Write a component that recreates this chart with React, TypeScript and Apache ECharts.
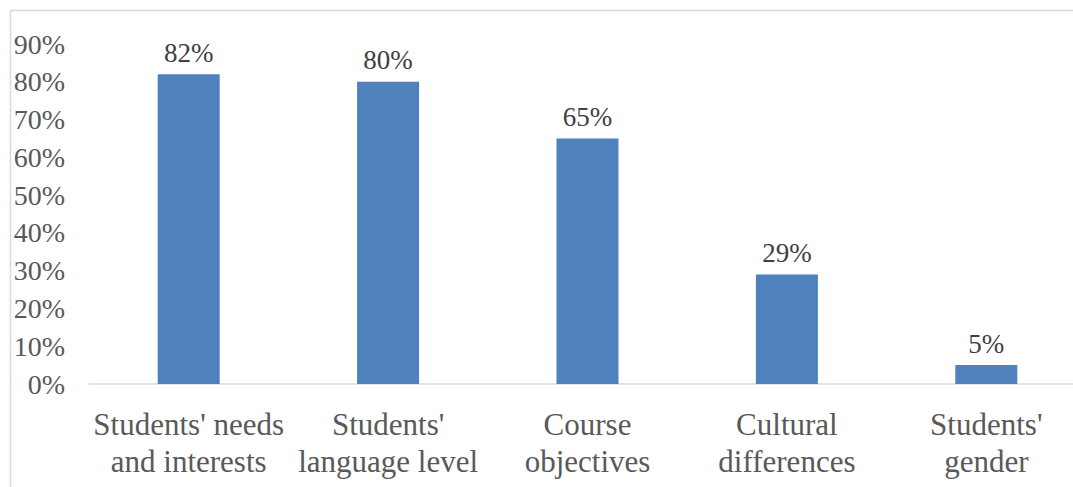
import React, { useEffect, useRef } from "react";
import * as echarts from "echarts";

const categories = [
  "Students' needs\nand interests",
  "Students'\nlanguage level",
  "Course\nobjectives",
  "Cultural\ndifferences",
  "Students'\ngender",
];
const values = [82, 80, 65, 29, 5];
const yTicks = [0, 10, 20, 30, 40, 50, 60, 70, 80, 90];

export default function App() {
  const ref = useRef<HTMLDivElement>(null);
  useEffect(() => {
    if (!ref.current) return;
    const chart = echarts.init(ref.current, null, { renderer: "svg" });
    const font = "Liberation Serif";
    chart.setOption({
      animation: false,
      backgroundColor: "#ffffff",
      graphic: [
        {
          type: "rect",
          shape: { x: 10.5, y: 10.5, width: 1200, height: 600 },
          style: { fill: "none", stroke: "#d9d9d9", lineWidth: 1.5 },
          silent: true,
        },
      ],
      grid: { left: 89, right: 0, top: 44, bottom: 103, containLabel: false },
      xAxis: {
        type: "category",
        data: categories,
        axisLine: { show: true, lineStyle: { color: "#d9d9d9", width: 1.5 } },
        axisTick: { show: false },
        axisLabel: {
          color: "#595959",
          fontFamily: font,
          fontSize: 31,
          lineHeight: 37,
          margin: 22,
          interval: 0,
        },
      },
      yAxis: {
        type: "value",
        min: yTicks[0],
        max: yTicks[yTicks.length - 1],
        interval: 10,
        splitLine: { show: false },
        axisLine: { show: false },
        axisTick: { show: false },
        axisLabel: {
          color: "#595959",
          fontFamily: font,
          fontSize: 28,
          margin: 24,
          formatter: (v: number) => v + "%",
        },
      },
      series: [
        {
          type: "bar",
          data: values,
          barWidth: 62,
          itemStyle: { color: "#4f81bd" },
          label: {
            show: true,
            position: "top",
            distance: 8,
            color: "#404040",
            fontFamily: font,
            fontSize: 27,
            formatter: (p: any) => p.value + "%",
          },
        },
      ],
    });
    return () => chart.dispose();
  }, []);
  return (
    <div style={{ position: "fixed", left: 0, top: 0, width: 1073, height: 487, overflow: "hidden", background: "#fff" }}>
      <div ref={ref} style={{ position: "absolute", left: 0, top: 0, width: 1086, height: 487 }} />
    </div>
  );
}
